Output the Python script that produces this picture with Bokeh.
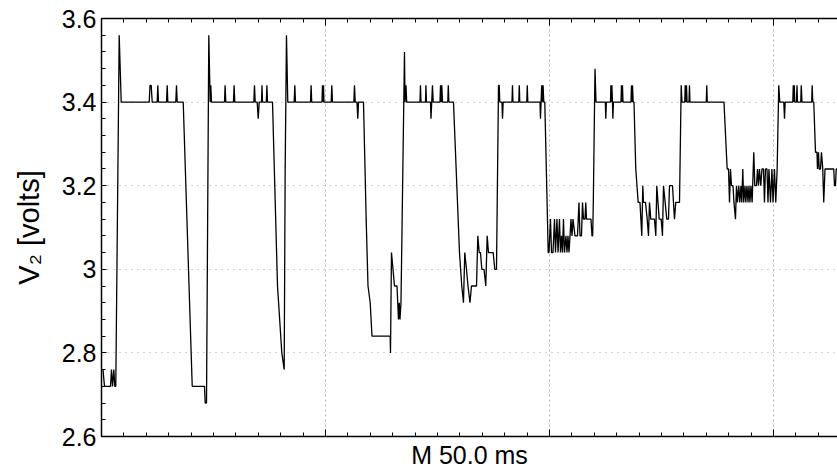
from bokeh.plotting import figure
from bokeh.models import Range1d, SingleIntervalTicker, LinearAxis, CustomJSTickFormatter
from bokeh.embed import file_html
from bokeh.resources import INLINE

# oscilloscope trace (time in ms, voltage in volts)
time_ms = [
    0.00, 0.33, 0.67, 2.01, 2.23, 2.46, 2.75, 2.97, 3.19, 3.95, 4.40,
    10.65, 10.83, 11.09, 11.32, 12.43, 12.57, 12.72, 14.51, 14.67, 14.80,
    16.58, 16.74, 16.90, 18.24, 20.25, 22.99, 23.15, 23.44, 23.95, 24.26,
    24.40, 24.55, 27.46, 27.59, 27.75, 29.46, 29.60, 29.75, 34.00, 34.15,
    34.31, 34.75, 34.98, 35.20, 35.71, 35.83, 35.94, 36.79, 36.92, 37.05,
    38.17, 39.29, 40.25, 40.78, 41.00, 41.29, 41.58, 43.01, 43.15, 43.30,
    46.65, 46.79, 46.92, 49.22, 49.33, 49.44, 49.55, 49.66, 51.27, 51.41,
    51.56, 56.34, 56.47, 56.63, 57.03, 57.21, 57.37, 58.48, 59.08, 59.49,
    59.98, 60.38, 64.44, 64.51, 64.73, 65.07, 65.40, 65.96, 66.29, 66.47,
    66.63, 66.85, 67.63, 67.75, 67.97, 68.12, 71.09, 71.20, 71.32, 72.32,
    72.41, 72.54, 73.44, 73.55, 73.71, 73.88, 74.04, 75.56, 75.67, 75.83,
    75.96, 76.12, 77.30, 77.41, 77.54, 78.57, 79.91, 80.42, 80.80, 81.09,
    81.47, 81.81, 82.25, 82.59, 83.71, 84.00, 84.31, 84.60, 84.89, 85.38,
    85.78, 86.09, 86.38, 87.43, 87.79, 88.17, 88.62, 88.77, 88.91, 89.40,
    89.51, 89.66, 91.63, 91.74, 91.85, 93.15, 93.26, 93.37, 94.93, 95.04,
    95.16, 97.88, 97.99, 98.12, 98.26, 98.44, 98.57, 98.73, 98.95, 99.55,
    99.71, 99.89, 100.22, 100.45, 100.78, 101.12, 101.34, 101.67, 101.90, 102.23,
    102.45, 102.68, 102.90, 103.12, 103.35, 103.68, 103.91, 104.13, 104.35, 104.58,
    104.80, 105.02, 105.25, 105.69, 106.25, 106.58, 106.81, 107.14, 107.37, 107.59,
    107.92, 108.10, 108.26, 109.26, 109.49, 109.64, 109.78, 110.16, 110.38, 112.46,
    112.57, 112.70, 113.62, 113.70, 113.84, 113.93, 114.06, 114.15, 114.28, 115.96,
    116.07, 116.18, 116.29, 116.41, 118.19, 118.30, 118.42, 118.53, 118.68, 118.86,
    119.26, 119.80, 120.20, 120.60, 120.83, 120.98, 121.43, 121.81, 122.10, 122.32,
    122.61, 123.44, 123.73, 123.95, 124.22, 124.49, 124.93, 125.22, 125.45, 125.82,
    126.18, 126.56, 126.79, 127.46, 127.90, 128.19, 129.02, 129.40, 129.58, 130.20,
    130.29, 130.42, 130.58, 130.71, 131.14, 131.25, 131.36, 135.00, 135.11, 135.22,
    138.95, 139.66, 139.96, 140.18, 140.40, 140.63, 140.96, 141.18, 141.52, 141.74,
    141.96, 142.25, 142.48, 142.74, 142.92, 143.15, 143.35, 143.64, 143.82, 144.08,
    144.31, 144.53, 144.75, 144.98, 145.24, 145.60, 145.83, 146.20, 146.43, 146.65,
    146.87, 147.16, 147.43, 147.77, 147.99, 148.21, 148.55, 148.77, 148.99, 149.33,
    149.66, 149.89, 150.22, 150.51, 150.82, 151.18, 151.41, 152.30, 152.46, 152.61,
    154.31, 154.42, 154.53, 154.64, 154.75, 155.13, 155.25, 155.36, 156.09, 156.20,
    156.36, 158.53, 158.64, 158.77, 158.99, 159.38, 159.71, 159.82, 160.05, 160.20,
    160.49, 160.71, 161.00, 161.22, 161.50, 163.46, 163.62, 163.84, 164.00, 164.29,
]
volts = [
    2.76, 2.76, 2.72, 2.72, 2.76, 2.72, 2.76, 2.72, 2.72, 3.56, 3.40,
    3.40, 3.44, 3.44, 3.40, 3.40, 3.44, 3.40, 3.40, 3.44, 3.40,
    3.40, 3.44, 3.40, 3.40, 2.72, 2.72, 2.68, 2.68, 3.56, 3.40,
    3.44, 3.40, 3.40, 3.44, 3.40, 3.40, 3.44, 3.40, 3.40, 3.44,
    3.40, 3.40, 3.36, 3.40, 3.40, 3.44, 3.40, 3.40, 3.44, 3.40,
    3.40, 2.96, 2.80, 2.76, 3.24, 3.56, 3.40, 3.40, 3.44, 3.40,
    3.40, 3.44, 3.40, 3.40, 3.44, 3.40, 3.44, 3.40, 3.40, 3.44,
    3.40, 3.40, 3.44, 3.40, 3.40, 3.36, 3.40, 3.40, 3.12, 2.96,
    2.92, 2.84, 2.84, 2.80, 3.04, 3.00, 2.96, 2.96, 2.88, 2.92,
    2.88, 2.92, 3.52, 3.40, 3.44, 3.40, 3.40, 3.44, 3.40, 3.40,
    3.44, 3.40, 3.40, 3.36, 3.40, 3.44, 3.40, 3.40, 3.44, 3.40,
    3.44, 3.40, 3.40, 3.44, 3.40, 3.40, 3.04, 2.96, 2.92, 3.04,
    3.00, 2.96, 2.92, 2.96, 2.96, 3.08, 3.04, 3.04, 3.00, 3.00,
    2.96, 3.08, 3.04, 3.04, 3.00, 3.00, 3.44, 3.44, 3.40, 3.40,
    3.36, 3.40, 3.40, 3.44, 3.40, 3.40, 3.44, 3.40, 3.40, 3.44,
    3.40, 3.40, 3.36, 3.40, 3.44, 3.40, 3.44, 3.40, 3.40, 3.12,
    3.04, 3.04, 3.12, 3.04, 3.04, 3.12, 3.04, 3.12, 3.04, 3.12,
    3.04, 3.08, 3.04, 3.12, 3.04, 3.08, 3.04, 3.08, 3.04, 3.08,
    3.12, 3.08, 3.12, 3.08, 3.08, 3.16, 3.08, 3.08, 3.16, 3.12,
    3.12, 3.16, 3.12, 3.12, 3.08, 3.08, 3.16, 3.48, 3.40, 3.40,
    3.36, 3.40, 3.40, 3.44, 3.40, 3.44, 3.40, 3.36, 3.40, 3.40,
    3.44, 3.40, 3.44, 3.40, 3.40, 3.44, 3.40, 3.44, 3.40, 3.40,
    3.24, 3.16, 3.16, 3.08, 3.20, 3.16, 3.16, 3.12, 3.08, 3.16,
    3.12, 3.12, 3.08, 3.20, 3.16, 3.12, 3.12, 3.08, 3.20, 3.16,
    3.12, 3.12, 3.20, 3.20, 3.12, 3.16, 3.16, 3.44, 3.40, 3.40,
    3.44, 3.40, 3.44, 3.40, 3.40, 3.44, 3.40, 3.40, 3.44, 3.40,
    3.40, 3.24, 3.24, 3.16, 3.24, 3.20, 3.20, 3.16, 3.12, 3.20,
    3.16, 3.20, 3.16, 3.20, 3.16, 3.24, 3.16, 3.20, 3.16, 3.20,
    3.16, 3.20, 3.16, 3.20, 3.16, 3.28, 3.20, 3.20, 3.24, 3.20,
    3.24, 3.20, 3.24, 3.24, 3.16, 3.24, 3.24, 3.16, 3.24, 3.16,
    3.24, 3.16, 3.24, 3.16, 3.24, 3.44, 3.40, 3.40, 3.36, 3.40,
    3.40, 3.44, 3.40, 3.44, 3.40, 3.40, 3.44, 3.40, 3.40, 3.44,
    3.40, 3.40, 3.44, 3.40, 3.40, 3.28, 3.28, 3.24, 3.28, 3.24,
    3.24, 3.28, 3.24, 3.16, 3.24, 3.24, 3.20, 3.20, 3.24, 3.24,
]

x_major_ms = 50          # one screen division
x_minor_per_major = 10
y_major_v = 0.2
y_minor_per_major = 5
x_label = "M 50.0 ms"
y_label = "V\u2082 [volts]"

FONT = "Liberation Sans"

p = figure(width=837, height=471, output_backend="svg", toolbar_location=None,
           x_range=Range1d(0, 164.29), y_range=Range1d(2.6, 3.6),
           min_border_left=101, min_border_right=0, min_border_top=18,
           min_border_bottom=34, x_axis_label=x_label, y_axis_label=y_label)
p.outline_line_color = None
p.background_fill_color = "white"
p.border_fill_color = "white"

xt = SingleIntervalTicker(interval=x_major_ms, num_minor_ticks=x_minor_per_major)
yt = SingleIntervalTicker(interval=y_major_v, num_minor_ticks=y_minor_per_major)

p.xaxis.ticker = xt
p.yaxis.ticker = yt
p.xgrid.ticker = xt
p.ygrid.ticker = yt

for ax in (p.xaxis[0], p.yaxis[0]):
    ax.axis_line_color = "black"
    ax.axis_line_width = 1.5
    ax.major_tick_line_color = "black"
    ax.minor_tick_line_color = "black"
    ax.major_tick_out = 0
    ax.minor_tick_out = 0
    ax.axis_label_text_font = FONT
    ax.axis_label_text_font_style = "normal"
    ax.axis_label_text_color = "black"
    ax.major_label_text_font = FONT
    ax.major_label_text_color = "black"

empty = CustomJSTickFormatter(code="return '';")

p.xaxis.major_tick_in = 7
p.xaxis.minor_tick_in = 4
p.xaxis.formatter = empty
p.xaxis.major_label_text_font_size = "2px"
p.xaxis.major_label_standoff = 0
p.xaxis.axis_label_standoff = 4
p.xaxis.axis_label_text_font_size = "25px"

p.yaxis.major_tick_in = 5
p.yaxis.minor_tick_in = 4
p.yaxis.major_label_text_font_size = "25px"
p.yaxis.major_label_standoff = 5
p.yaxis.axis_label_standoff = 14
p.yaxis.axis_label_text_font_size = "29px"
p.yaxis.formatter = CustomJSTickFormatter(code="return String(Math.round(tick*10)/10);")

top = LinearAxis(ticker=xt, formatter=empty, axis_line_color="black", axis_line_width=1.5,
                 major_tick_in=7, minor_tick_in=4, major_tick_out=0, minor_tick_out=0,
                 major_label_text_font_size="2px", major_label_standoff=0)
p.add_layout(top, "above")

p.xgrid.grid_line_color = "#b4b4b4"
p.xgrid.grid_line_dash = "2 3"
p.xgrid.grid_line_width = 1
p.ygrid.grid_line_color = "#a8a8a8"
p.ygrid.grid_line_dash = "1 5"
p.ygrid.grid_line_width = 1

p.line(time_ms, volts, line_color="black", line_width=1.3)

open("out.html", "w").write(file_html(p, INLINE))
